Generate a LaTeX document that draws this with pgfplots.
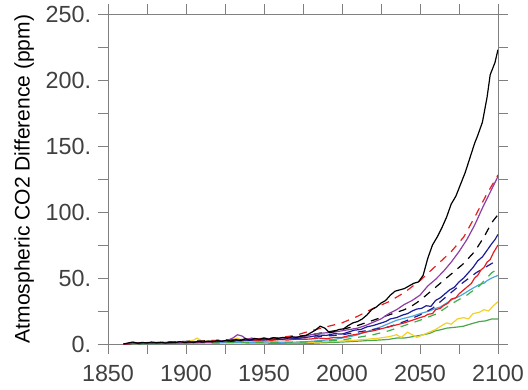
\documentclass[border=0pt]{standalone}
\usepackage{pgfplots}
\pgfplotsset{compat=1.18}
\usepackage{fontspec}
\setmainfont{Liberation Sans}
\definecolor{tickgray}{HTML}{404040}
\definecolor{axgray}{HTML}{808080}
\definecolor{cred}{HTML}{E41E20}
\definecolor{cpurple}{HTML}{8E3CA6}
\definecolor{cnavy}{HTML}{1C1C96}
\definecolor{cgreenD}{HTML}{3DAE48}
\definecolor{clblue}{HTML}{48A6DA}
\definecolor{cyellow}{HTML}{F2D22A}
\definecolor{cgreen}{HTML}{4CA64C}
\begin{document}
\begin{tikzpicture}
\useasboundingbox (-81pt,-33.75pt) rectangle (315pt,258pt);
\begin{axis}[
  scale only axis, width=292.5pt, height=247.5pt,
  xmin=1850, xmax=2100, ymin=0, ymax=250,
  xtick={1850,1900,1950,2000,2050,2100},
  xticklabels={1850,1900,1950,2000,2050,2100},
  ytick={0,50,100,150,200,250},
  yticklabels={0.,50.,100.,150.,200.,250.},
  minor x tick num=1, minor y tick num=1,
  tick align=outside,
  major tick length=7.5pt, minor tick length=7.5pt,
  axis line style={axgray, line width=0.7pt},
  every tick/.style={axgray, line width=0.7pt},
  tick label style={font=\fontsize{17.5}{20}\selectfont, text=tickgray},
  xticklabel shift=5pt, yticklabel shift=1.7pt,
  every axis y label/.style={at={(axis description cs:-0.215,0.5)}, rotate=90, anchor=center},
  ylabel={\fontsize{15.8}{18}\selectfont Atmospheric CO2 Difference (ppm)},
  every axis plot/.append style={line width=0.9pt, line join=round},
]
% green solid
\addplot[cgreen] coordinates {(1860,0)(1870,0.4)(1880,0.3)(1890,0.7)(1900,0.6)(1910,0.9)(1920,0.8)(1930,1.0)(1940,0.8)(1950,0.7)(1960,0.5)(1975,0.3)(1985,0.8)(1995,1.2)(2005,1.8)(2015,2.5)(2024,3)(2030,3.5)(2035,4.5)(2040,4.5)(2045,5.5)(2050,6.5)(2056,8)(2060,10)(2064,11)(2067,12)(2071,12.5)(2075,13)(2078,13.5)(2082,15)(2085,16)(2088,17)(2092,17.5)(2096,19)(2100,19)};
% yellow
\addplot[cyellow] coordinates {(1860,0)(1870,0.5)(1880,0.8)(1890,1.2)(1900,1.5)(1905,3)(1907,4.5)(1910,2.5)(1920,2)(1930,3.5)(1933,4.5)(1936,2.5)(1945,2)(1955,1.5)(1965,1)(1975,1)(1985,1.5)(1995,2)(2005,2.5)(2015,3.5)(2024,4.5)(2030,5.5)(2035,7)(2038,5)(2042,9)(2045,7)(2048,5)(2052,7)(2056,9)(2060,11)(2064,14)(2067,16)(2070,15)(2074,19)(2078,20)(2081,19)(2084,23)(2088,24)(2091,26)(2094,25)(2097,29)(2100,32)};
% light blue
\addplot[clblue] coordinates {(1860,0)(1870,0.6)(1880,0.4)(1890,0.9)(1900,0.7)(1910,1.2)(1920,1.0)(1930,1.5)(1940,1.2)(1950,1.6)(1960,1.3)(1975,1.5)(1980,2)(1985,2.5)(1990,3)(1995,3.5)(2000,4.5)(2005,5.5)(2010,7)(2015,9)(2020,11)(2025,13)(2030,15.5)(2035,18)(2040,19.5)(2045,21)(2050,23)(2056,25)(2060,27)(2063,28)(2067,31)(2071,34)(2075,36)(2078,38)(2082,41)(2085,43)(2088,45)(2091,46)(2093,48)(2096,50)(2100,52)};
% green dashed
\addplot[cgreenD, dash pattern=on 6pt off 5pt] coordinates {(1860,0)(1900,0.8)(1940,1.2)(1975,1.5)(1985,2)(2000,3)(2010,5)(2020,7)(2030,10)(2040,14)(2050,18)(2061,23)(2071,31)(2080,37)(2088,44)(2096,54)(2100,57)};
% navy dashed
\addplot[cnavy, dash pattern=on 6pt off 5pt] coordinates {(1860,0)(1880,0.8)(1900,1.5)(1920,2.2)(1940,3)(1960,3.8)(1980,5)(2000,7)(2015,10)(2030,13)(2040,17)(2050,22)(2058,27)(2065,34)(2072,41)(2077,46)(2086,54)(2096,61)(2100,64)};
% red solid
\addplot[cred] coordinates {(1860,0)(1865,0.4)(1870,0.9)(1875,0.5)(1880,1.1)(1885,0.7)(1890,1.3)(1895,0.9)(1900,1.6)(1905,1.2)(1910,1.8)(1915,1.4)(1920,2.2)(1925,1.8)(1930,2.6)(1935,2.2)(1940,3.0)(1945,2.5)(1950,3.2)(1955,2.8)(1960,3.4)(1965,3.0)(1970,3.6)(1975,3.5)(1980,3.8)(1985,4.5)(1990,4)(1995,5)(2000,5)(2005,6.5)(2010,7.5)(2015,9)(2020,10)(2025,11.5)(2030,13)(2035,14.5)(2040,16)(2045,18)(2050,20)(2053,21)(2055,22.5)(2058,23)(2060,26)(2063,27)(2065,29)(2068,31)(2070,34)(2073,35)(2075,38)(2078,41)(2080,43)(2083,46)(2085,50)(2087,52)(2089,56)(2091,58)(2093,62)(2095,64)(2097,69)(2100,75)};
% navy solid
\addplot[cnavy] coordinates {(1860,0)(1865,0.7)(1870,0.4)(1875,1.1)(1880,0.6)(1885,1.3)(1890,0.9)(1895,1.5)(1900,1.1)(1905,1.8)(1910,1.3)(1915,2.1)(1920,1.7)(1925,2.5)(1930,2.0)(1935,3.2)(1940,2.6)(1945,3.5)(1950,3.0)(1955,3.8)(1960,3.3)(1965,4.2)(1970,4.0)(1975,4.8)(1980,5.5)(1985,6.8)(1990,6.5)(1995,7.8)(2000,7.5)(2004,9)(2008,10.5)(2012,11)(2016,13)(2020,14)(2024,15.5)(2028,17)(2031,19)(2035,20)(2039,22)(2042,23)(2045,25)(2048,26.5)(2051,27)(2054,29)(2057,28.5)(2060,33)(2063,35)(2066,38)(2069,41)(2072,43)(2075,47)(2078,50)(2081,54)(2084,58)(2087,63)(2090,66)(2093,71)(2096,76)(2098,79)(2100,83)};
% black dashed
\addplot[black, dash pattern=on 6pt off 5pt] coordinates {(1860,0)(1870,1)(1880,1)(1890,1.5)(1900,2)(1910,2.3)(1920,2.8)(1930,3.2)(1940,3.6)(1950,4)(1960,4.5)(1970,5.5)(1980,7)(1990,9)(2000,11)(2010,14)(2020,18)(2030,22)(2040,26)(2045,29)(2050,33)(2056,39)(2065,48)(2071,54)(2078,61)(2085,70)(2091,81)(2096,92)(2100,98)};
% purple
\addplot[cpurple] coordinates {(1860,0)(1865,0.5)(1870,1)(1875,0.6)(1880,1.2)(1885,0.8)(1890,1.5)(1895,1)(1900,1.8)(1905,1.2)(1910,2)(1915,1.5)(1920,2.6)(1925,2)(1930,4.5)(1933,7)(1936,6)(1939,3.5)(1942,4.5)(1945,3.8)(1950,4.5)(1955,3.8)(1960,4.6)(1965,4.2)(1970,5.2)(1975,5.5)(1980,7)(1985,8)(1990,8.5)(1995,9)(2000,10)(2005,11)(2010,12)(2015,14)(2020,16.5)(2025,19)(2030,23)(2035,26)(2040,30)(2045,33)(2050,37)(2055,44)(2060,49)(2065,55)(2070,62)(2075,70)(2080,79)(2085,90)(2090,103)(2095,115)(2100,127)};
% red dashed
\addplot[cred, dash pattern=on 6pt off 5pt] coordinates {(1860,0)(1870,0.8)(1880,0.5)(1890,1.2)(1900,1.5)(1910,1.8)(1920,2.5)(1930,3)(1940,3.5)(1950,4)(1960,4.8)(1970,6.5)(1980,10)(1990,13)(2000,16)(2010,21)(2020,27)(2030,32)(2040,39)(2050,48)(2060,59)(2070,70)(2078,81)(2085,96)(2093,114)(2100,128)};
% black solid
\addplot[black] coordinates {(1860,0)(1863,0.8)(1866,1.5)(1869,0.6)(1872,1.2)(1875,0.8)(1878,1.5)(1881,0.9)(1884,1.3)(1887,0.7)(1890,1.4)(1893,1.0)(1896,1.8)(1899,1.2)(1902,1.6)(1905,1.1)(1908,2.0)(1911,1.5)(1914,2.2)(1917,1.6)(1920,2.5)(1923,2.0)(1926,2.8)(1929,2.2)(1932,3.4)(1935,2.6)(1938,4.0)(1941,3.0)(1944,4.2)(1947,3.5)(1950,4.5)(1953,3.6)(1956,4.8)(1959,4.2)(1962,5.0)(1965,4.4)(1968,5.5)(1971,5.0)(1974,6.0)(1977,6.5)(1980,8.5)(1983,10.5)(1986,13.5)(1989,12)(1992,8.5)(1995,9.5)(1998,11)(2001,11.5)(2004,14)(2007,16)(2010,17)(2013,19)(2016,22)(2019,26)(2022,28)(2025,31)(2028,33)(2031,37)(2034,40)(2037,41)(2040,42)(2043,44)(2046,46)(2049,47)(2052,52)(2055,65)(2058,75)(2061,81)(2064,88)(2067,96)(2070,106)(2073,112)(2076,121)(2079,130)(2082,141)(2085,152)(2087,158)(2090,168)(2093,187)(2095,204)(2098,213)(2100,223)};
\end{axis}
\end{tikzpicture}
\end{document}
